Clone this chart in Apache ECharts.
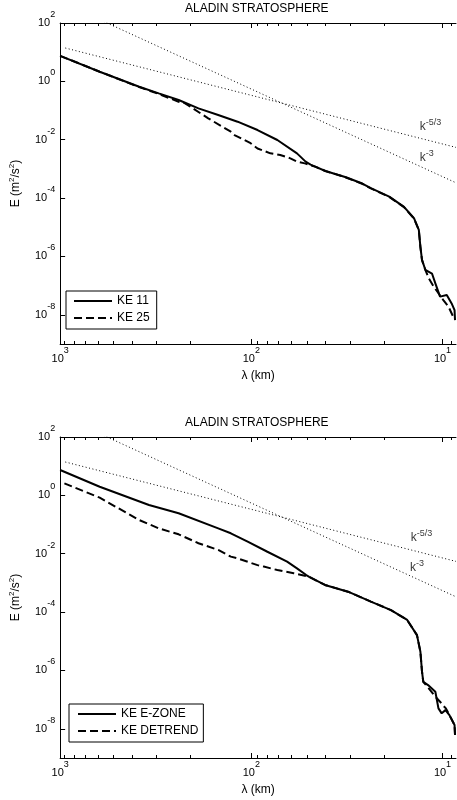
<!DOCTYPE html>
<html><head><meta charset="utf-8">
<script src="https://cdn.jsdelivr.net/npm/echarts@6/dist/echarts.min.js"></script>
<style>html,body{margin:0;padding:0;background:#fff}#c{width:457px;height:800px}</style>
</head><body><div id="c"></div>
<script>
// ---------- data ----------
const titleText = 'ALADIN STRATOSPHERE';
const xName = 'λ (km)';
const yName = 'E (m{s|2}/s{s|2})';
const xTickMajor = [1000, 100, 10];
const xTickMinor = [900, 800, 700, 600, 500, 400, 300, 200, 90, 80, 70, 60, 50, 40, 30, 20, 9];
const yTickMajor = [1e2, 1e0, 1e-2, 1e-4, 1e-6, 1e-8];

// top panel
const lambdaKe11 = [1000, 621, 386, 305, 240, 189, 149, 118, 92.8, 73.1, 57.7, 52, 49, 46, 41, 32, 26.3, 23.7, 19, 15.9, 14.1, 13.3, 13.05, 12.8, 12.3, 11.35, 10.9, 10.3, 9.5, 8.96, 8.65, 8.6];
const eKe11 = [7.5, 2.14, 0.656, 0.389, 0.23, 0.119, 0.0703, 0.0415, 0.0215, 0.0098, 3.4e-3, 1.78e-3, 1.41e-3, 1.17e-3, 8.5e-4, 5.2e-4, 3.16e-4, 2.19e-4, 1.12e-4, 5.0e-5, 2.04e-5, 8.1e-6, 2.14e-6, 7.6e-7, 3.5e-7, 2.6e-7, 1.2e-7, 4.2e-8, 4.8e-8, 2.45e-8, 1.45e-8, 6.6e-9];
const lambdaKe25 = [1000, 621, 386, 305, 240, 222, 168, 128, 122.5, 100.9, 92.8, 79.5, 70.6, 62.5, 57.7, 52.5, 46, 41, 32, 26.3, 23.7, 19, 15.9, 14.1, 13.3, 13.05, 12.8, 12.3, 11.8, 11.1, 9.9, 9.3, 8.8];
const eKe25 = [7.5, 2.14, 0.64, 0.37, 0.2, 0.177, 0.054, 0.0188, 0.0145, 7.6e-3, 5.0e-3, 3.42e-3, 3.0e-3, 2.3e-3, 1.78e-3, 1.55e-3, 1.17e-3, 8.5e-4, 5.1e-4, 3.1e-4, 2.15e-4, 1.1e-4, 4.9e-5, 2.0e-5, 8.0e-6, 2.1e-6, 7.5e-7, 3.5e-7, 1.78e-7, 9.1e-8, 3.2e-8, 1.9e-8, 8.7e-9];

// bottom panel
const lambdaEzone = [1000, 621, 343, 240, 149, 128, 104.5, 82.4, 65, 57.7, 51.6, 49.8, 41.2, 31.2, 23.7, 18.6, 15.3, 13.6, 13.05, 12.8, 12.6, 11.9, 10.9, 10.5, 10.1, 9.65, 9.2, 8.65, 8.6];
const eEzone = [7.4, 1.98, 0.468, 0.243, 0.0741, 0.0501, 0.0259, 0.0117, 5.37e-3, 3.16e-3, 1.86e-3, 1.62e-3, 8.5e-4, 5.0e-4, 2.29e-4, 1.17e-4, 5.37e-5, 1.62e-5, 4.37e-6, 9.1e-7, 4.07e-7, 3.16e-7, 1.86e-7, 5.0e-8, 3.39e-8, 4.37e-8, 2.95e-8, 1.35e-8, 6.17e-9];
const lambdaDetrend = [950, 621, 386, 305, 240, 189, 149, 128, 118, 92.8, 86.1, 73.1, 60, 49.8, 41.2, 31.2, 23.7, 18.6, 15.3, 13.6, 13.05, 12.8, 12.6, 11.8, 10.9, 10.3, 10.0, 9.6, 9.2, 8.65, 8.6];
const eDetrend = [2.57, 0.832, 0.143, 0.0741, 0.0462, 0.0229, 0.0135, 7.94e-3, 6.92e-3, 4.07e-3, 3.63e-3, 2.75e-3, 2.14e-3, 1.62e-3, 8.5e-4, 5.0e-4, 2.29e-4, 1.17e-4, 5.37e-5, 1.62e-5, 4.37e-6, 9.1e-7, 4.07e-7, 2.45e-7, 1.26e-7, 8.5e-8, 6.6e-8, 5.0e-8, 2.95e-8, 1.35e-8, 6.17e-9];

// reference slopes (end points)
const lambdaK53 = [940, 8.5];
const eK53 = [13.9, 5.46e-3];
const lambdaK3 = [940, 8.5];
const eK3 = [452, 3.34e-4];

// slope annotation anchors [lambda, E, exponent]
const kLabelsTop = [[13.25, 0.0279, '-5/3'], [13.25, 0.00237, '-3']];
const kLabelsBottom = [[14.76, 0.0346, '-5/3'], [14.9, 0.00324, '-3']];

const panels = [
  {names: ['KE 11', 'KE 25'], solid: [lambdaKe11, eKe11], dashed: [lambdaKe25, eKe25], kLabels: kLabelsTop},
  {names: ['KE E-ZONE', 'KE DETREND'], solid: [lambdaEzone, eEzone], dashed: [lambdaDetrend, eDetrend], kLabels: kLabelsBottom}
];

// ---------- layout / style ----------
const FONT = '"Liberation Sans", Arial, sans-serif';
const gridTops = [23, 437];
const GRID_LEFT = 55, GRID_W = 401, GRID_H = 321;
const zip = (a, b) => a.map((v, i) => [v, b[i]]);
const powLabel = v => '{b|10}{s|' + Math.round(Math.log10(v)) + '}';
const tickRich = {
  b: {fontSize: 11, lineHeight: 26, fontFamily: FONT, color: '#000'},
  s: {fontSize: 9, lineHeight: 10, verticalAlign: 'top', fontFamily: FONT, color: '#000'}
};

const grid = [], xAxis = [], yAxis = [], series = [], title = [], legend = [];

gridTops.forEach((top, i) => {
  grid.push({left: GRID_LEFT, top: top, width: GRID_W, height: GRID_H, containLabel: false});
});
gridTops.forEach((top, i) => {
  grid.push({left: GRID_LEFT, top: top, width: GRID_W, height: GRID_H, containLabel: false});
});

const xBase = {type: 'log', logBase: 10, inverse: true, min: 8.5, max: 1000, splitLine: {show: false}};
gridTops.forEach((top, i) => {
  ['bottom', 'top'].forEach(pos => {
    xAxis.push(Object.assign({}, xBase, {
      gridIndex: i, position: pos,
      axisLine: {show: true, onZero: false, lineStyle: {color: '#000', width: 1}},
      axisTick: {show: true, inside: true, length: 5, customValues: xTickMajor, lineStyle: {color: '#000', width: 1}},
      axisLabel: pos === 'bottom'
        ? {show: true, customValues: xTickMajor, margin: 2, formatter: powLabel, rich: tickRich, color: '#000'}
        : {show: false},
      name: pos === 'bottom' ? xName : '', nameLocation: 'middle', nameGap: 26,
      nameTextStyle: {fontSize: 12, fontFamily: FONT, color: '#000'}
    }));
  });
});
gridTops.forEach((top, i) => {
  ['bottom', 'top'].forEach(pos => {
    xAxis.push(Object.assign({}, xBase, {
      gridIndex: i + 2, position: pos,
      axisLine: {show: false, onZero: false},
      axisTick: {show: true, inside: true, length: 3, customValues: xTickMinor, lineStyle: {color: '#000', width: 1}},
      axisLabel: {show: false}
    }));
  });
});

gridTops.forEach((top, i) => {
  yAxis.push({
    gridIndex: i, type: 'log', logBase: 10, min: 1e-9, max: 100, position: 'left',
    axisLine: {show: true, onZero: false, lineStyle: {color: '#000', width: 1}},
    axisTick: {show: true, inside: true, length: 5, customValues: yTickMajor, lineStyle: {color: '#000', width: 1}},
    axisLabel: {show: true, customValues: yTickMajor, margin: 5, formatter: powLabel, rich: tickRich, color: '#000'},
    splitLine: {show: false},
    name: yName, nameLocation: 'middle', nameGap: 30, nameRotate: 90,
    nameTextStyle: {fontSize: 12, lineHeight: 16, fontFamily: FONT, color: '#000',
      rich: {s: {fontSize: 8, lineHeight: 8, verticalAlign: 'top', fontFamily: FONT, color: '#000'}}}
  });
});
gridTops.forEach((top, i) => {
  yAxis.push({gridIndex: i + 2, type: 'value', min: 0, max: 1, show: false});
});

const legendBoxes = [
  {left: 66, top: 291, padding: [4, 7, 5, 7]},
  {left: 69, top: 704, padding: [4, 5, 5, 8]}
];

panels.forEach((p, i) => {
  title.push({text: titleText, left: 185, top: gridTops[i] - 20, padding: 0,
    textStyle: {fontSize: 12, fontWeight: 'normal', fontFamily: FONT, color: '#000'}});
  legend.push(Object.assign({
    data: p.names, orient: 'vertical', itemWidth: 38, itemHeight: 12, itemGap: 5,
    borderColor: '#000', borderWidth: 1, borderRadius: 0, backgroundColor: '#fff',
    itemStyle: {opacity: 0},
    textStyle: {fontSize: 12, fontFamily: FONT, color: '#000'}, selectedMode: false
  }, legendBoxes[i]));
  const common = {type: 'line', xAxisIndex: i * 2, yAxisIndex: i, symbol: 'none', showSymbol: false, clip: true, animation: false};
  series.push(Object.assign({}, common, {name: 'k53_' + i, data: zip(lambdaK53, eK53), silent: true,
    lineStyle: {color: '#000', width: 1, type: [1, 2.5]}, z: 1}));
  series.push(Object.assign({}, common, {name: 'k3_' + i, data: zip(lambdaK3, eK3), silent: true,
    lineStyle: {color: '#000', width: 1, type: [1, 2.5]}, z: 1}));
  series.push(Object.assign({}, common, {name: p.names[1], data: zip(p.dashed[0], p.dashed[1]),
    lineStyle: {color: '#000', width: 2, type: [8, 4]}, itemStyle: {color: '#000'}, z: 3}));
  series.push(Object.assign({}, common, {name: p.names[0], data: zip(p.solid[0], p.solid[1]),
    lineStyle: {color: '#000', width: 2, type: 'solid'}, itemStyle: {color: '#000'}, z: 4}));
  series.push({
    type: 'scatter', xAxisIndex: i * 2, yAxisIndex: i, name: 'klab_' + i, silent: true,
    symbolSize: 1, itemStyle: {color: 'rgba(0,0,0,0)'}, animation: false,
    data: p.kLabels,
    label: {show: true, position: 'right', distance: 0,
      formatter: q => '{k|k}{s|' + q.data[2] + '}',
      rich: {
        k: {fontSize: 12, lineHeight: 18, fontFamily: FONT, color: '#000'},
        s: {fontSize: 9, lineHeight: 9, verticalAlign: 'top', fontFamily: FONT, color: '#000'}
      }}
  });
});

const chart = echarts.init(document.getElementById('c'), null, {renderer: 'canvas'});
chart.setOption({animation: false, backgroundColor: '#fff', title, legend, grid, xAxis, yAxis, series});
</script>
</body></html>
